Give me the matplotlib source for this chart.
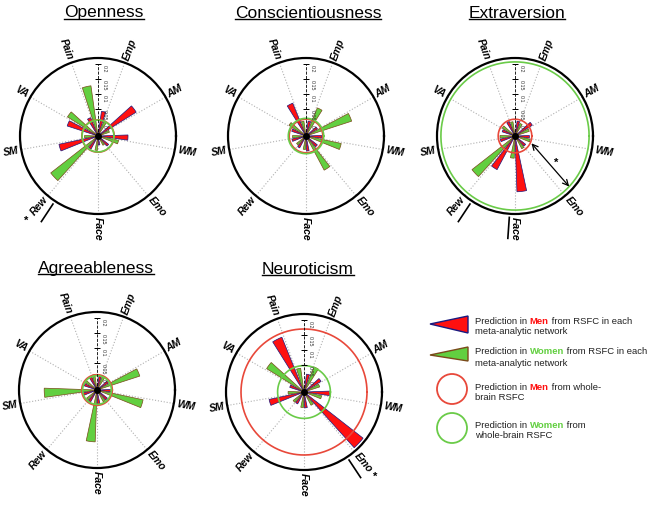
import numpy as np
import matplotlib
matplotlib.use('Agg')
import matplotlib.pyplot as plt
from matplotlib.patches import Polygon, Circle

plt.rcParams['font.family'] = ['Liberation Sans', 'DejaVu Sans']

# networks, clockwise from Emp
networks = ['Emp', 'AM', 'WM', 'Emo', 'Face', 'Rew', 'SM', 'VA', 'Pain']
traits = ['Openness', 'Conscientiousness', 'Extraversion', 'Agreeableness', 'Neuroticism']

# prediction accuracy (r) per network, same order as networks
openness_men = [0.043, 0.11, 0.06, 0.005, -0.01, 0.01, 0.093, 0.068, 0.026]
openness_women = [0.012, 0.0, 0.03, -0.005, 0.008, 0.16, 0.005, 0.08, 0.129]
consc_men = [0.01, 0.005, 0.012, 0.008, 0.01, 0.005, 0.008, 0.01, 0.078]
consc_women = [0.061, 0.12, 0.08, 0.089, 0.005, 0.0, 0.005, 0.027, 0.01]
extra_men = [0.01, 0.028, 0.008, 0.005, 0.146, 0.087, 0.01, 0.005, 0.012]
extra_women = [0.005, 0.01, 0.012, 0.008, 0.034, 0.142, 0.01, 0.01, 0.008]
agree_men = [0.008, 0.005, 0.01, 0.004, 0.008, 0.006, 0.01, 0.005, 0.007]
agree_women = [0.01, 0.11, 0.117, 0.005, 0.133, 0.004, 0.136, 0.006, 0.012]
neuro_men = [0.02, 0.027, 0.046, 0.21, 0.013, 0.005, 0.079, 0.01, 0.157]
neuro_women = [0.05, 0.015, 0.02, 0.01, 0.012, 0.006, 0.013, 0.107, 0.04]

# whole-brain prediction, per trait
wb_men = [0.014, 0.016, 0.016, 0.011, 0.17]
wb_women = [0.013, 0.019, 0.207, 0.008, 0.048]

# significant networks (underlined)
underlined = {'Openness': ['Rew'], 'Extraversion': ['Rew', 'Face'], 'Neuroticism': ['Emo']}

men_all = [openness_men, consc_men, extra_men, agree_men, neuro_men]
women_all = [openness_women, consc_women, extra_women, agree_women, neuro_women]

W, H = 651, 505
RAD = 78
R_MIN, R_MAX = -0.04, 0.22
centers = [(98, 136), (306, 136), (515, 136), (97, 390), (304, 392)]
title_y = [13, 13, 13, 268, 269]
title_x = [104, 308, 517, 96, 308]

RED = '#FF1010'
NAVY = '#1A1A80'
GREEN = '#62CF40'
BROWN = '#7A4A1A'
C_RED = '#E8483A'
C_GREEN = '#6ACB48'

fig = plt.figure(figsize=(6.51, 5.05), dpi=100)
ax0 = fig.add_axes([0, 0, 1, 1])
ax0.set_xlim(0, W)
ax0.set_ylim(H, 0)
ax0.axis('off')

net_deg = np.array([70 - 40 * i for i in range(len(networks))], dtype=float)
net_th = np.deg2rad(net_deg)
wedge = np.deg2rad(10)
shift = np.deg2rad(7)
circ = np.linspace(0, 2 * np.pi, 300)

for k, trait in enumerate(traits):
    cx, cy = centers[k]
    ax = fig.add_axes([(cx - RAD) / W, 1 - (cy + RAD) / H, 2 * RAD / W, 2 * RAD / H],
                      projection='polar')
    ax.set_ylim(R_MIN, R_MAX)
    ax.set_xticks([])
    ax.set_yticks([])
    ax.grid(False)
    ax.spines['polar'].set_linewidth(1.6)
    ax.patch.set_alpha(0)

    for th in net_th:
        ax.plot([th, th], [R_MIN, R_MAX], color='#b0b0b0', ls=':', lw=0.8, zorder=1)

    m = np.maximum(np.array(men_all[k]), -0.035)
    w = np.maximum(np.array(women_all[k]), -0.035)
    ax.bar(net_th + shift, m - R_MIN, width=wedge, bottom=R_MIN, color=RED,
           edgecolor=NAVY, lw=0.5, zorder=2)
    ax.bar(net_th - shift, w - R_MIN, width=wedge, bottom=R_MIN, color=GREEN,
           edgecolor=BROWN, lw=0.5, zorder=2)

    ax.plot(circ, np.full_like(circ, wb_men[k]), color=C_RED, lw=1.2, zorder=3)
    ax.plot(circ, np.full_like(circ, wb_women[k]), color=C_GREEN, lw=1.2, zorder=3)
    ax.plot(0, R_MIN, 'o', color='k', ms=4, zorder=5)

    # radial axis
    ax.plot([np.pi / 2, np.pi / 2], [R_MIN, 0.2], color='k', ls='--', lw=0.6, zorder=4)
    for v, lab in zip([0.2, 0.15, 0.1, 0.05, 0.0], ['0.2', '0.15', '0.1', '0.05', '0']):
        if v > 0:
            ax.plot(np.pi / 2, v, marker='_', ms=4.5, mew=0.7, color='k', zorder=4)
        ax.annotate(lab, xy=(np.pi / 2, v), xytext=(3, -1), textcoords='offset points',
                    rotation=-90, fontsize=3.8, ha='left', va='top', color='#333333',
                    zorder=4)

    # network labels, inner end just outside the circle
    for name, deg, th in zip(networks, net_deg, net_th):
        d = deg % 360
        left_side = 90 < d < 270
        rot = d - 180 if left_side else (d if d <= 90 else d - 360)
        ax.text(th, 0.23, name, rotation=rot, rotation_mode='anchor',
                ha='right' if left_side else 'left', va='center', fontsize=7.5,
                fontweight='bold', fontstyle='italic', clip_on=False)
        if name in underlined.get(trait, []):
            side = 1 if left_side else -1
            tu = th + side * np.deg2rad(6.5 if name != 'Face' else 4)
            ax.plot([tu, tu], [0.232, 0.302], color='k', lw=1.2, clip_on=False)

    if trait == 'Openness':
        ax.text(np.deg2rad(230), 0.33, '*', fontsize=8, fontweight='bold',
                ha='center', va='center', clip_on=False)
    if trait == 'Neuroticism':
        ax.text(np.deg2rad(-50), 0.33, '*', fontsize=8, fontweight='bold',
                ha='center', va='center', clip_on=False)
    if trait == 'Extraversion':
        ax.annotate('', xy=(np.deg2rad(-43), wb_women[k]), xytext=(np.deg2rad(-24), 0.02),
                    arrowprops=dict(arrowstyle='<->', color='k', lw=0.9,
                                    shrinkA=0, shrinkB=0), zorder=6)
        ax.text(np.deg2rad(-33), 0.125, '*', fontsize=8, fontweight='bold',
                ha='center', va='center')

    ax0.text(title_x[k], title_y[k], trait, fontsize=12.5, ha='center', va='center')

# underline the titles
fig.canvas.draw()
inv = ax0.transData.inverted()
for txt in list(ax0.texts):
    bb = txt.get_window_extent()
    (x0, y0), (x1, y1) = inv.transform([[bb.x0, bb.y0], [bb.x1, bb.y1]])
    ax0.plot([x0, x1], [y0 - 1.5, y0 - 1.5], color='k', lw=1.0)

# legend
FS = 6.8
def rich_line(x, y, parts):
    t = ax0.text(x, y, parts[0][0], color=parts[0][1], fontweight=parts[0][2],
                 fontsize=FS, ha='left', va='center')
    for s, c, wgt in parts[1:]:
        t = ax0.annotate(s, xy=(1, 0), xycoords=t, ha='left', va='bottom', color=c,
                         fontweight=wgt, fontsize=FS)

legend_rows = [
    (321, [('Prediction in ', '#222222', 'normal'), ('Men', RED, 'bold'),
           (' from RSFC in each', '#222222', 'normal')], 'meta-analytic network'),
    (352, [('Prediction in ', '#222222', 'normal'), ('Women', GREEN, 'bold'),
           (' from RSFC in each', '#222222', 'normal')], 'meta-analytic network'),
    (387, [('Prediction in ', '#222222', 'normal'), ('Men', RED, 'bold'),
           (' from whole-', '#222222', 'normal')], 'brain RSFC'),
    (425, [('Prediction in ', '#222222', 'normal'), ('Women', GREEN, 'bold'),
           (' from', '#222222', 'normal')], 'whole-brain RSFC'),
]
for y, parts, second in legend_rows:
    rich_line(475, y, parts)
    ax0.text(475, y + 11, second, color='#222222', fontsize=FS, ha='left', va='center')

ax0.add_patch(Polygon([[430, 324], [468, 316], [468, 333]], closed=True,
                      facecolor=RED, edgecolor=NAVY, lw=1.0))
ax0.add_patch(Polygon([[430, 355], [468, 347], [468, 361]], closed=True,
                      facecolor=GREEN, edgecolor=BROWN, lw=1.0))
ax0.add_patch(Circle((452, 389), 15, facecolor='none', edgecolor=C_RED, lw=1.3))
ax0.add_patch(Circle((452, 428), 15, facecolor='none', edgecolor=C_GREEN, lw=1.3))

fig.savefig('out.png', dpi=100)
